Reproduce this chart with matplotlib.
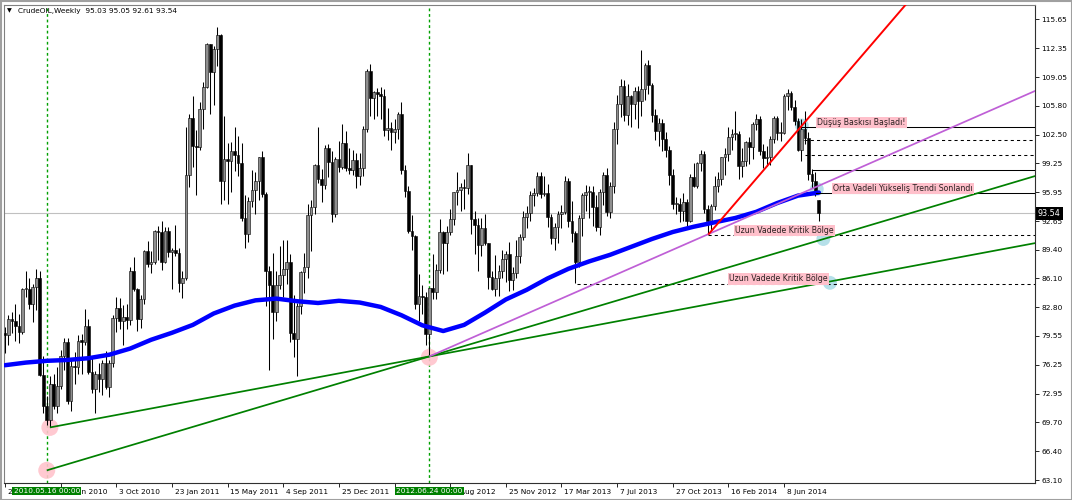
import matplotlib
matplotlib.use('Agg')
import matplotlib.pyplot as plt
import matplotlib.transforms as mtransforms
import numpy as np

# ---------------- data ----------------
title_text = "CrudeOIL,Weekly  95.03 95.05 92.61 93.54"

# weekly candles, week 0 = 21 Feb 2010
opens = [79.8, 79.7, 81.5, 81.2, 80.7, 80.0, 84.9, 84.9, 83.2, 85.1,
         86.2, 75.1, 71.6, 70.0, 74.0, 71.5, 73.8, 77.2, 78.9, 72.1,
         76.1, 76.0, 79.0, 78.9, 80.7, 75.4, 73.5, 75.2, 74.6, 76.5,
         73.7, 76.5, 81.6, 82.7, 81.3, 81.7, 81.4, 86.9, 84.9, 81.5,
         83.8, 89.2, 87.8, 88.0, 91.5, 91.4, 88.0, 91.5, 89.1, 89.3,
         89.0, 85.6, 86.2, 97.9, 104.4, 101.2, 101.1, 105.4, 107.9, 112.8,
         109.7, 112.3, 113.9, 97.2, 99.7, 99.5, 100.6, 100.2, 99.3, 93.0,
         91.2, 94.9, 96.2, 97.2, 99.9, 95.7, 86.9, 85.4, 82.3, 85.4,
         86.5, 87.2, 88.0, 79.9, 79.2, 83.0, 86.8, 87.4, 93.3, 94.3,
         99.0, 97.4, 96.8, 101.0, 99.4, 93.5, 99.7, 98.8, 101.6, 98.7,
         98.5, 99.6, 97.8, 98.7, 103.2, 109.8, 106.7, 107.4, 107.1, 106.9,
         103.0, 103.3, 102.8, 103.1, 104.9, 98.5, 96.1, 91.5, 90.9, 83.2,
         84.1, 84.0, 79.8, 85.0, 84.5, 87.1, 91.4, 90.1, 91.4, 92.9,
         96.0, 96.2, 96.5, 96.4, 99.0, 92.9, 92.2, 89.9, 91.9, 90.1,
         86.3, 84.9, 86.1, 86.9, 88.3, 88.9, 85.9, 86.7, 88.7, 90.8,
         93.1, 93.6, 95.6, 95.9, 97.8, 95.7, 95.9, 93.1, 90.7, 92.0,
         93.5, 93.7, 97.2, 92.7, 91.3, 88.0, 93.0, 95.6, 96.0, 96.0,
         94.2, 92.0, 96.0, 97.9, 93.7, 96.6, 103.2, 106.0, 108.1, 104.7,
         106.9, 106.0, 107.5, 106.4, 107.7, 110.5, 108.2, 104.7, 102.9, 103.8,
         102.0, 100.8, 97.9, 94.6, 94.6, 93.8, 94.8, 92.7, 97.7, 96.6,
         99.3, 100.3, 94.0, 92.7, 94.4, 96.6, 97.5, 99.9, 100.3, 102.2,
         102.6, 102.6, 98.9, 99.5, 101.7, 101.1, 103.7, 104.3, 100.6, 99.8,
         100.0, 102.0, 104.4, 102.7, 102.7, 106.9, 107.3, 105.7, 104.1, 100.8,
         103.1, 102.1, 98.0, 97.2, 95.03]
highs = [80.6, 81.9, 82.3, 83.2, 82.0, 85.0, 87.0, 86.1, 85.5, 87.2,
         87.0, 77.3, 72.7, 75.0, 75.2, 76.0, 77.9, 79.3, 79.3, 76.8,
         77.7, 79.7, 79.8, 82.6, 81.5, 77.0, 75.5, 76.4, 76.8, 77.8,
         76.8, 81.9, 84.0, 83.9, 83.1, 83.2, 87.4, 88.6, 85.0, 84.2,
         89.4, 90.4, 89.2, 91.6, 92.1, 92.6, 92.0, 92.0, 89.6, 92.2,
         89.6, 87.0, 103.4, 104.9, 106.9, 103.0, 106.2, 108.5, 113.0, 112.9,
         112.6, 114.8, 114.0, 104.6, 101.6, 101.7, 103.4, 102.4, 101.5, 95.6,
         95.4, 98.5, 98.2, 100.0, 100.6, 96.0, 87.5, 89.0, 86.9, 89.8,
         90.5, 90.5, 88.9, 84.2, 83.3, 87.0, 89.0, 94.6, 95.0, 99.2,
         103.4, 98.6, 101.3, 101.4, 100.6, 100.0, 101.8, 103.7, 102.9, 101.0,
         100.7, 100.4, 100.4, 103.5, 110.0, 110.6, 107.5, 107.8, 108.0, 107.7,
         105.5, 104.0, 104.3, 105.1, 106.2, 99.0, 96.7, 93.3, 91.0, 86.6,
         85.3, 84.5, 85.0, 88.9, 87.7, 92.9, 91.5, 92.1, 94.0, 96.0,
         98.3, 97.0, 97.5, 100.4, 99.0, 93.8, 93.0, 93.0, 93.5, 90.2,
         87.0, 88.8, 87.6, 89.4, 89.2, 90.3, 87.4, 90.5, 91.2, 93.8,
         94.4, 96.1, 96.4, 98.2, 98.2, 97.8, 96.9, 93.5, 92.4, 93.8,
         94.5, 97.8, 97.6, 94.9, 91.5, 93.3, 95.8, 96.8, 96.6, 96.7,
         95.6, 96.3, 98.3, 98.7, 97.1, 104.0, 107.0, 108.9, 108.7, 108.3,
         107.0, 108.0, 108.1, 112.2, 110.7, 111.0, 108.4, 105.4, 104.4, 104.3,
         102.8, 101.2, 98.6, 95.4, 95.3, 95.9, 95.2, 98.0, 99.3, 99.4,
         100.8, 100.6, 94.5, 94.6, 97.8, 98.2, 100.0, 101.0, 103.4, 103.2,
         105.2, 102.9, 101.0, 101.8, 102.2, 104.0, 104.9, 104.6, 101.4, 101.2,
         102.4, 104.6, 104.6, 104.0, 107.1, 107.7, 107.5, 106.5, 104.4, 104.3,
         105.2, 102.8, 98.6, 98.2, 95.05]
lows = [77.6, 78.5, 79.9, 79.0, 78.7, 79.8, 84.0, 82.6, 81.1, 82.5,
        75.0, 70.8, 69.4, 69.2, 71.2, 70.8, 73.5, 75.6, 71.8, 71.0,
        74.0, 75.2, 75.2, 78.5, 75.2, 73.0, 70.8, 73.2, 72.8, 73.5,
        72.6, 76.0, 80.0, 80.3, 78.5, 80.3, 80.8, 84.7, 80.1, 80.5,
        83.2, 87.4, 86.7, 87.8, 88.2, 87.1, 87.9, 88.5, 84.9, 88.7,
        84.5, 83.9, 85.9, 96.5, 98.8, 95.6, 100.7, 103.2, 107.8, 104.9,
        105.9, 110.3, 94.6, 95.0, 94.6, 96.0, 98.4, 97.8, 92.7, 89.6,
        90.3, 94.3, 93.5, 95.0, 95.4, 82.9, 75.7, 79.2, 81.2, 84.9,
        84.0, 85.5, 78.8, 77.1, 75.0, 82.0, 84.4, 86.1, 89.2, 93.4,
        97.0, 94.8, 96.3, 97.7, 92.5, 93.1, 98.3, 98.6, 98.4, 98.0,
        97.9, 96.4, 96.8, 97.8, 102.8, 104.6, 104.3, 104.6, 104.3, 102.3,
        101.9, 100.7, 101.5, 102.0, 98.0, 95.4, 91.3, 89.3, 82.6, 81.2,
        82.0, 78.5, 77.3, 83.8, 83.7, 86.7, 86.6, 86.9, 91.0, 92.2,
        94.5, 93.8, 94.0, 95.7, 91.2, 88.9, 87.0, 88.7, 89.9, 84.9,
        84.8, 84.1, 84.1, 86.2, 85.7, 84.7, 84.8, 86.2, 87.9, 90.5,
        91.9, 92.6, 94.4, 95.5, 95.3, 95.5, 92.0, 90.0, 89.3, 90.1,
        91.8, 93.5, 92.0, 90.3, 85.6, 87.4, 90.9, 93.8, 93.0, 92.1,
        91.5, 91.1, 94.5, 93.2, 93.0, 95.9, 101.4, 104.5, 104.1, 103.6,
        103.4, 104.3, 103.3, 104.6, 106.5, 107.1, 103.9, 101.9, 101.2, 100.6,
        100.0, 96.8, 94.0, 93.5, 92.5, 92.7, 91.8, 92.5, 96.5, 96.4,
        98.4, 93.6, 91.2, 91.5, 93.9, 96.0, 96.8, 97.9, 99.5, 100.8,
        101.9, 97.4, 97.7, 98.9, 99.2, 99.7, 103.0, 100.2, 98.7, 98.9,
        99.0, 101.5, 101.9, 101.8, 102.6, 105.3, 105.3, 103.6, 100.6, 99.5,
        101.4, 97.3, 96.4, 95.5, 92.61]
closes = [79.7, 81.5, 81.2, 80.7, 80.0, 84.9, 84.9, 83.2, 85.1, 86.2,
          75.1, 71.6, 70.0, 74.0, 71.5, 73.8, 77.2, 78.9, 72.1, 76.1,
          76.0, 79.0, 78.9, 80.7, 75.4, 73.5, 75.2, 74.6, 76.5, 73.7,
          76.5, 81.6, 82.7, 81.3, 81.7, 81.4, 86.9, 84.9, 81.5, 83.8,
          89.2, 87.8, 88.0, 91.5, 91.4, 88.0, 91.5, 89.1, 89.3, 89.0,
          85.6, 86.2, 97.9, 104.4, 101.2, 101.1, 105.4, 107.9, 112.8, 109.7,
          112.3, 113.9, 97.2, 99.7, 99.5, 100.6, 100.2, 99.3, 93.0, 91.2,
          94.9, 96.2, 97.2, 99.9, 95.7, 86.9, 85.4, 82.3, 85.4, 86.5,
          87.2, 88.0, 79.9, 79.2, 83.0, 86.8, 87.4, 93.3, 94.3, 99.0,
          97.4, 96.8, 101.0, 99.4, 93.5, 99.7, 98.8, 101.6, 98.7, 98.5,
          99.6, 97.8, 98.7, 103.2, 109.8, 106.7, 107.4, 107.1, 106.9, 103.0,
          103.3, 102.8, 103.1, 104.9, 98.5, 96.1, 91.5, 90.9, 83.2, 84.1,
          84.0, 79.8, 85.0, 84.5, 87.1, 91.4, 90.1, 91.4, 92.9, 96.0,
          96.2, 96.5, 96.4, 99.0, 92.9, 92.2, 89.9, 91.9, 90.1, 86.3,
          84.9, 86.1, 86.9, 88.3, 88.9, 85.9, 86.7, 88.7, 90.8, 93.1,
          93.6, 95.6, 95.9, 97.8, 95.7, 95.9, 93.1, 90.7, 92.0, 93.5,
          93.7, 97.2, 92.7, 91.3, 88.0, 93.0, 95.6, 96.0, 96.0, 94.2,
          92.0, 96.0, 97.9, 93.7, 96.6, 103.2, 106.0, 108.1, 104.7, 106.9,
          106.0, 107.5, 106.4, 107.7, 110.5, 108.2, 104.7, 102.9, 103.8, 102.0,
          100.8, 97.9, 94.6, 94.6, 93.8, 94.8, 92.7, 97.7, 96.6, 99.3,
          100.3, 94.0, 92.7, 94.4, 96.6, 97.5, 99.9, 100.3, 102.2, 102.6,
          102.6, 98.9, 99.5, 101.7, 101.1, 103.7, 104.3, 100.6, 99.8, 100.0,
          102.0, 104.4, 102.7, 102.7, 106.9, 107.3, 105.7, 104.1, 100.8, 103.1,
          102.1, 98.0, 97.2, 95.9, 93.54]

# moving average (blue) read at sample weeks
ma_weeks = [0, 6, 12, 18, 24, 30, 36, 42, 48, 54, 60, 66, 72, 78, 84, 90,
            96, 102, 108, 114, 120, 126, 132, 138, 144, 150, 156, 162, 168,
            174, 180, 186, 192, 198, 204, 210, 216, 222, 228, 234]
ma_values = [76.2, 76.5, 76.7, 76.8, 77.0, 77.4, 78.1, 79.1, 79.9, 80.8,
             82.1, 83.0, 83.6, 83.8, 83.5, 83.3, 83.55, 83.35, 82.85, 81.9,
             80.75, 80.1, 80.8, 82.2, 83.7, 84.8, 86.1, 87.2, 88.05, 88.8,
             89.7, 90.6, 91.4, 92.0, 92.5, 93.0, 93.7, 94.7, 95.55, 95.9]

xtick_weeks = [0, 16, 32, 48, 64, 80, 96, 112, 128, 144, 160, 176, 192, 208, 224]
# the label at week 112 is fully hidden behind the date tag in the reference
xtick_labels = ["21 Feb 2010", "13 Jun 2010", "3 Oct 2010", "23 Jan 2011",
                "15 May 2011", "4 Sep 2011", "25 Dec 2011", "",
                "5 Aug 2012", "25 Nov 2012", "17 Mar 2013", "7 Jul 2013",
                "27 Oct 2013", "16 Feb 2014", "8 Jun 2014"]
ytick_labels = ["115.65", "112.35", "109.05", "105.80", "102.50", "99.25",
                "95.95", "92.65", "89.40", "86.10", "82.80", "79.55", "76.25",
                "72.95", "69.70", "66.40", "63.10"]

bid_price = 93.54
marker_weeks = [12, 122]
marker_labels = ["2010.05.16 00:00", "2012.06.24 00:00"]

# trend lines: two anchor points (week, price), extended to the right
green_line_a = [(12.9, 69.1), (122, 77.2)]
green_line_b = [(12.0, 64.2), (122, 77.2)]
purple_line = [(122, 77.2), (202.2, 91.15)]
red_line = [(202.2, 91.1), (228.6, 103.3)]

# horizontal levels: start week, price, style
level_starts = [228.6, 229.6, 230.0, 232.3, 233.2, 202.2, 164.5]
level_prices = [103.42, 101.9, 100.18, 98.47, 95.9, 91.04, 85.5]
level_styles = ['solid', 'dashed', 'dashed', 'solid', 'solid', 'dashed', 'dashed']

note_texts = ["Düşüş Baskısı Başladı!", "Orta Vadeli Yükseliş Trendi Sonlandı",
              "Uzun Vadede Kritik Bölge", "Uzun Vadede Kritik Bölge"]
note_weeks = [233.5, 238.1, 209.9, 208.2]
note_prices = [103.88, 96.39, 91.54, 86.05]

pink_weeks = [12.9, 12.0, 122.0]
pink_prices = [69.1, 64.2, 77.1]
cyan_weeks = [229.1, 233.4, 235.3, 237.2]
cyan_prices = [103.55, 96.3, 90.6, 85.6]

# ---------------- figure ----------------
plt.rcParams['font.family'] = ['DejaVu Sans']
W, H = 1072, 500
fig = plt.figure(figsize=(W / 100, H / 100), dpi=100)
fig.patch.set_facecolor('white')
ax = fig.add_axes([4 / W, 17 / H, 1031 / W, 478 / H])
ax.set_facecolor('white')

XMIN, XMAX = -0.29, 296.15
YMIN, YMAX = 62.76, 117.3
ax.set_xlim(XMIN, XMAX)
ax.set_ylim(YMIN, YMAX)

weeks = np.arange(len(closes))
o = np.array(opens); h = np.array(highs); l = np.array(lows); c = np.array(closes)
up = c >= o

# bid line
ax.axhline(bid_price, color='#c0c0c0', lw=0.8, zorder=1)

# vertical date lines
for mw in marker_weeks:
    ax.axvline(mw, color='#00a000', lw=1.0, ls=(0, (2, 2)), zorder=1.5)

# wicks and bodies
ax.vlines(weeks, l, h, color='black', lw=0.75, zorder=3)
body_bottom = np.minimum(o, c)
body_h = np.maximum(np.abs(c - o), 0.12)
ax.bar(weeks[up], body_h[up], bottom=body_bottom[up], width=0.78,
       color='#8f8f8f', edgecolor='black', linewidth=0.4, zorder=3.5)
ax.bar(weeks[~up], body_h[~up], bottom=body_bottom[~up], width=0.78,
       color='black', edgecolor='black', linewidth=0.4, zorder=3.5)

# markers (circles)
ax.scatter(pink_weeks, pink_prices, s=150, color='#ffc4cc', alpha=0.9,
           edgecolors='none', zorder=2)
ax.scatter(cyan_weeks, cyan_prices, s=100, color='#a9dbe6', alpha=0.85,
           edgecolors='none', zorder=2)

# moving average
ax.plot(ma_weeks, ma_values, color='#0000ff', lw=3.2, zorder=4,
        solid_capstyle='round')


def ray(pts, color, lw=1.25, z=5):
    (w1, p1), (w2, p2) = pts
    slope = (p2 - p1) / (w2 - w1)
    we = XMAX + 5
    ax.plot([w1, we], [p1, p1 + slope * (we - w1)], color=color, lw=lw,
            zorder=z, solid_capstyle='butt')


ray(green_line_a, '#008000')
ray(green_line_b, '#008000')
ray(purple_line, '#bf5fd6')
ray(red_line, '#ff0000', lw=1.4)

# horizontal levels
for ws, pr, st in zip(level_starts, level_prices, level_styles):
    ls = '-' if st == 'solid' else (0, (3, 3))
    ax.plot([ws, XMAX], [pr, pr], color='black', lw=0.75, ls=ls, zorder=4.5)

# annotation texts
for t, wx, py in zip(note_texts, note_weeks, note_prices):
    ax.text(wx, py, t, fontsize=5.6, color='#2a2020', ha='left', va='center',
            zorder=6, bbox=dict(boxstyle='square,pad=0.15', fc='#ffc0cb',
                                ec='none'))

# axes styling
ax.yaxis.tick_right()
ax.set_yticks([float(v) for v in ytick_labels])
ax.set_yticklabels(ytick_labels)
ax.set_xticks(xtick_weeks)
ax.set_xticklabels(xtick_labels)
ax.tick_params(axis='both', direction='out', length=3, width=0.6,
               labelsize=5.3, colors='black', pad=1.5)
offset = mtransforms.ScaledTranslation(2 / 72, 0, fig.dpi_scale_trans)
for lbl in ax.get_xticklabels():
    lbl.set_horizontalalignment('left')
    lbl.set_transform(lbl.get_transform() + offset)
for side in ['left', 'top']:
    ax.spines[side].set_color('#808080')
    ax.spines[side].set_linewidth(0.8)
for side in ['right', 'bottom']:
    ax.spines[side].set_color('#303030')
    ax.spines[side].set_linewidth(0.8)

# current price tag on the right axis
trans_y = mtransforms.blended_transform_factory(ax.transAxes, ax.transData)
ax.text(1.0 + 3 / 1031, bid_price, f"{bid_price:.2f}", transform=trans_y,
        fontsize=5.8, color='white', ha='left', va='center', clip_on=False,
        zorder=10, bbox=dict(boxstyle='square,pad=0.25', fc='black', ec='none'))

# date tags under the vertical lines
trans_x = mtransforms.blended_transform_factory(ax.transData, ax.transAxes)
for mw, lab in zip(marker_weeks, marker_labels):
    ax.text(mw, -8 / 478, lab, transform=trans_x, fontsize=5.3, color='white',
            ha='center', va='center', clip_on=False, zorder=10,
            bbox=dict(boxstyle='square,pad=0.2', fc='#008000', ec='none'))

# title
ax.text(3 / 1031, 1 - 6 / 478, "\u25BC", transform=ax.transAxes, fontsize=4.5,
        color='black', ha='left', va='center', zorder=10)
ax.text(14 / 1031, 1 - 6 / 478, title_text, transform=ax.transAxes,
        fontsize=5.3, color='black', ha='left', va='center', zorder=10)

# window frame
fig.add_artist(plt.Rectangle((0.5 / W, 0.5 / H), 1 - 1 / W, 1 - 1 / H,
                             transform=fig.transFigure, fill=False,
                             ec='#a0a0a0', lw=1.5))

fig.savefig('out.png', dpi=100, facecolor='white')
